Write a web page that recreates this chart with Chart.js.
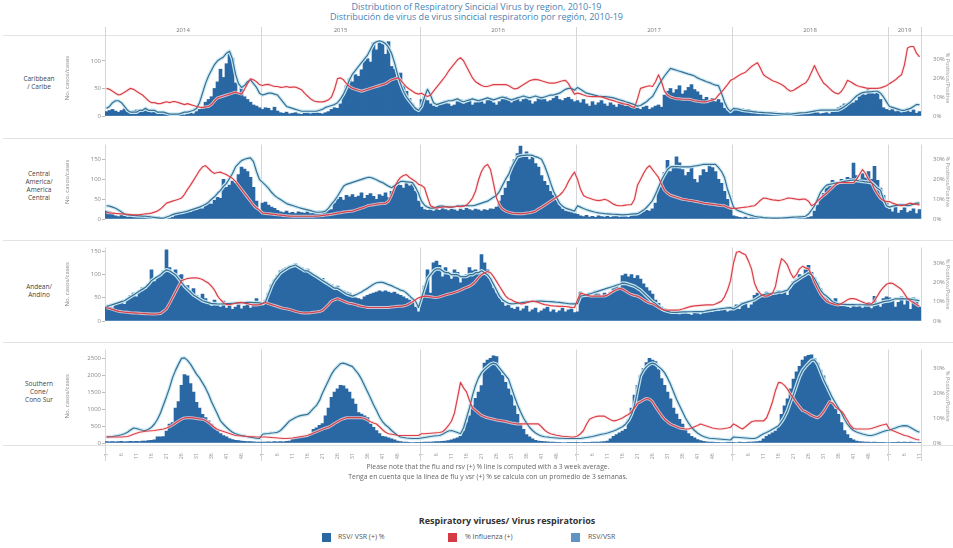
<!DOCTYPE html>
<html>
<head>
<meta charset="utf-8">
<script src="https://cdn.jsdelivr.net/npm/chart.js@4.4.1/dist/chart.umd.min.js"></script>
<style>
  html, body { margin: 0; padding: 0; background: #fff; }
  #wrap { position: relative; width: 953px; height: 548px; overflow: hidden; background: #fff;
          font-family: 'Open Sans', sans-serif; }
  canvas { position: absolute; }
  .t { position: absolute; white-space: nowrap; }
  .title { left: 0; width: 953px; text-align: center; font-size: 9px; color: #4a82b4; }
  .note { left: 0; width: 976px; text-align: center; font-size: 6.8px; color: #666; }
  .row { left: 3px; width: 72px; text-align: center; font-size: 6.5px; line-height: 8px; color: #444; }
  .sep { position: absolute; left: 3px; width: 950px; height: 1px; background: #e2e2e2; }
  .lg { position: absolute; font-size: 7px; color: #555; }
  .sw { position: absolute; width: 9px; height: 9px; }
</style>
</head>
<body>
<div id="wrap">
  <div class="t title" style="top:0px">Distribution of Respiratory Sincicial Virus by region, 2010-19</div>
  <div class="t title" style="top:10px">Distribución de virus de virus sincicial respiratorio por región, 2010-19</div>

  <div class="sep" style="top:35px"></div>
  <div class="sep" style="top:138px"></div>
  <div class="sep" style="top:240px"></div>
  <div class="sep" style="top:342px"></div>
  <div class="sep" style="top:445px"></div>

  <div class="t row" style="top:75px">Caribbean<br>/ Caribe</div>
  <div class="t row" style="top:170px">Central<br>America/<br>America<br>Central</div>
  <div class="t row" style="top:283px">Andean/<br>Andino</div>
  <div class="t row" style="top:380px">Southern<br>Cone/<br>Cono Sur</div>

  <canvas id="c0" width="891" height="130" style="left:62px;top:8px"></canvas>
  <canvas id="c1" width="891" height="104" style="left:62px;top:137px"></canvas>
  <canvas id="c2" width="891" height="103" style="left:62px;top:240px"></canvas>
  <canvas id="c3" width="891" height="119" style="left:62px;top:342px"></canvas>

  <div class="t note" style="top:462px">Please note that the flu and rsv (+) % line is computed with a 3 week average.</div>
  <div class="t note" style="top:472px">Tenga en cuenta que la línea de flu y vsr (+) % se calcula con un promedio de 3 semanas.</div>

  <div class="t" style="left:0;width:1014px;text-align:center;top:514px;font-size:9px;font-weight:700;color:#333">Respiratory viruses/ Virus respiratorios</div>
  <div class="sw" style="left:322px;top:533px;background:#2a68a4"></div>
  <div class="lg" style="left:338px;top:532px">RSV/ VSR (+) %</div>
  <div class="sw" style="left:448px;top:533px;background:#d63b45"></div>
  <div class="lg" style="left:465px;top:532px">% Influenza (+)</div>
  <div class="sw" style="left:571px;top:533px;background:#5f93c3"></div>
  <div class="lg" style="left:588px;top:532px">RSV/VSR</div>
</div>

<script>
// ---- time axis -------------------------------------------------------------
const YEARS = ['2014', '2015', '2016', '2017', '2018', '2019'];
const WEEKS_PER_YEAR = [52, 53, 52, 52, 52, 11];
const TICK_WEEKS = ['1', '6', '11', '16', '21', '26', '31', '36', '41', '46'];

// ---- Caribbean / Caribe ----------------------------------------------------
const caribeCases = [
  8,10,12,9,7,10,13,8,6,9, 11,7,9,12,8,6,10,7,5,8, 6,4,3,2,3,4,2,3,5,4, 8,12,16,25,30,35,50,62,85,70, 95,116,105,60,40,52, 35,30,25,20,18,15,
  12,15,14,10,16,9,6,5,7,4, 5,6,4,3,5,7,4,6,8,5, 4,6,8,12,15,14,22,38,55,68, 62,75,72,84,100,104,98,133,120,138, 130,112,135,90,85,70,78, 55,45,32,22,15,10,
  30,35,28,22,18,16,20,24,28,22, 18,20,26,30,22,25,28,20,24,30, 26,22,28,32,24,20,26,30,35,28, 24,28,32,26,30,34,28,22,26,32, 35,30,26,28,32,36,30, 28,32,34,30,26,
  28,24,30,22,18,26,20,24,28,22, 18,24,20,16,22,26,18,22,20,16, 14,12,16,18,12,15,18,20,16,38, 45,50,42,48,55,40,46,52,57,48, 44,38,30,34,28,32,26, 30,24,14,10,8,
  12,14,10,13,11,12,9,10,6,5, 4,6,3,5,7,4,3,5,6,4, 3,4,6,5,3,4,5,7,6,4, 5,6,4,7,8,15,18,22,20,25, 24,28,35,42,38,50,44, 40,46,30,15,12,
  10,14,8,12,6,9,13,7,11,5,8
];
const caribeRsv = [
  4,5,7,8,8,7,5,3,2,2, 2,3,3,4,3,3,3,2,2,2, 1.5,1,1,1,1,1.5,2,2,2.5,3, 4,7,12,17,21,24,27,29,30,31, 33,34,30,22,17,15, 16,18,19,17,15,12,
  11,11.5,12,12,11.5,11,9,7,5,4.5, 4,3.5,3,2.5,2.5,2.5,2.5,2.5,2.5,3, 3.5,4.5,5,5.5,6,7,9,11.5,15,19, 22,24,26,28,30,32,35,38,39,39.5, 39,38,36,33,28,22,17, 13,10,8,6,4,3,
  5,10,14,11,7,6,6.5,7,7.5,8, 8,8.5,9,8,7.5,8,8.5,9,8.5,8, 8.5,9,9.5,9,8.5,9,9.5,10,9.5,9, 8.5,9,9.5,10,10.5,10,9.5,10,10.5,10, 9.5,10,10.5,11,11,11.5,12, 13,14,14.5,14.5,13.5,
  15,14,13,12,11.6,11.2,10.8,10.5,10.3,10.2, 10,9.8,9.5,9,8.5,8.1,7.5,7,6.5,6, 5.2,5.5,6.5,7.5,9,10.2,13,16,18.7,21, 23,25,24.5,24,23.5,23,22.5,22,21.6,21, 20,19.3,18.7,18,17.5,16.8,16.2, 15.9,12,7.4,4,2.4,
  4,3.8,3.5,3,2.8,2.6,2.4,2.2,2,1.9, 1.8,1.7,1.6,1.5,1.3,1.2,1.1,1,1,1, 1.2,1.4,1.6,1.7,1.8,2,2.3,2.6,2.9,3.1, 3.1,3.1,3.1,3.1,3.1,3.2,4,5,6.2,7.4, 9,10.5,11.5,12.3,12.5,12.7,12.8, 13,13,12,10,7.4,
  5,4.5,4,3.5,3,3,3.5,4,5,6,6
];
const caribeFlu = [
  14.5,14,13,12,11,11.5,12.5,13.5,14.5,14, 13,12,11,9.5,8,7,7,6.5,6.5,7, 7.5,7,7.5,7.5,7,6.5,6,6.5,6,5.5, 5,4.7,4.5,4.8,5,6,8,9.5,10,10.5, 11,11.5,12,12.5,12,11.5, 14,17,19.5,19,18,16.5,
  16,16.5,16.6,16,15.5,15.5,15,15.2,15.5,15, 15.2,15.2,14.5,13.8,12,10.5,9,8,7.5,7.4, 7.4,7.8,8.5,10,14,19.6,20,19,17,15.5, 14.5,14,13.5,13,13.5,14,14.5,15,15.5,16, 16.5,17,18,19,19.5,20,19, 17,15.2,14,13,12,11.5,
  12,11,10.2,11,13,15,17,19,21,23.5, 25.5,27.5,29.5,30.6,29,26,23,20,18,17, 16,15.5,15.5,16,16.5,16.5,16.5,16.5,16.5,16, 15,14.2,14.5,15.5,16.5,17.5,18.5,19,19.2,19, 18.5,18,17.5,17.3,17.3,17.5,18, 18.5,18.7,17,14,11.5,
  12,11.6,11,10.5,10.3,10.2,10.2,10.2,10,9.5, 9,8.5,8.1,7.5,7,6.5,6.2,6,5,4.5, 9,14.5,15,15.5,15.9,15.5,18,21.6,18,13, 11,10,9.5,9,9,8.8,8.8,8.8,8.5,8, 7.8,7.5,7.4,7.5,8,8.5,9, 11,12.5,14.5,16.5,18.7,
  19.4,20.5,21.5,22.3,23,24.5,26,27,28,25, 21.6,20.5,19.5,18.5,18,17.3,16.5,15.5,14,13, 13.5,14.5,15.5,16.5,17.3,19.5,23,26.5,23,20, 17.3,16,14.5,13,12,11.6,13,15.5,18.7,18, 17,16,15.5,15.2,14.8,14.5,14.5, 14.5,14.5,14.8,15.3,15.9,
  17,18,19,20.5,21.6,27,35.7,36.5,36.5,33,31
];

// ---- Central America / America Central --------------------------------------
const centralCases = [
  20,18,12,8,6,10,7,5,8,6, 9,7,5,10,8,6,4,7,3,2, 1,2,4,14,16,18,15,20,17,22, 22,28,26,34,40,38,47,55,52,100, 80,86,96,90,112,131, 126,120,105,80,45,22,
  40,43,35,30,27,22,18,16,20,15, 17,14,18,16,15,19,14,16,18,20, 17,20,22,24,40,50,55,48,60,56, 62,55,58,66,52,60,64,57,50,62, 58,66,54,70,82,92,85, 78,96,84,88,70,45,
  30,24,22,26,20,25,22,27,24,21, 26,23,20,25,22,27,24,21,25,23, 20,24,22,26,25,30,45,60,78,95, 131,150,165,184,160,170,150,158,140,131, 110,95,85,70,60,47,35, 25,20,18,16,14,
  12,8,6,9,5,7,4,8,6,5, 7,4,6,8,5,7,6,4,8,10, 12,14,18,22,20,26,40,78,100,118, 148,120,135,157,142,125,110,118,131,100, 92,110,125,118,138,130,120, 100,90,70,50,30,
  8,6,4,3,5,2,3,4,2,3, 2,1,3,2,1,2,3,2,1,2, 3,2,1,2,3,4,6,20,35,50, 65,78,85,98,92,95,100,98,105,102, 141,110,100,115,104,120,100, 133,98,78,60,40,
  25,18,30,15,22,28,16,20,26,14,24
];
const centralRsv = [
  6.7,6.5,6,5.4,4.5,3.5,2.5,2.1,2,1.8, 1.7,1.6,1.5,1.4,1.2,1,0.8,0.6,0.4,0.4, 1,1.5,2.2,2.7,3,3.3,3.6,4,4.5,5, 5.5,6,6.7,7.5,8.5,10,11.2,13,14.5,16.5, 18,20.5,23,26.3,28,29.5, 30.2,30.6,30.9,29,24,20,
  18.5,17.1,15.5,13.5,11.9,10.8,9.8,8.8,7.8,7.3, 6.8,6.3,5.8,5.4,5,4.6,4.2,3.8,3.4,3.4, 3.6,4,5.5,7.5,9.3,11.5,14,16.5,17.5,18, 18.5,19,19.5,20,20.5,21,21,20.5,19.8,19, 18.4,17.5,16.6,15.8,16.8,18,19, 19,18.8,18.6,18.4,16,13,
  9,7,6,5.5,5.5,6,6.5,6.5,6.3,6, 6,6.2,6.5,6.5,6.7,6.8,6.7,6.7,7,7.5, 8,8.5,9,10,11,11.9,14,17,20,22.4, 26,29,31.5,32,32.2,32.3,32.3,32.2,31.5,31, 30.2,27,23,18.4,14,11,8, 6.5,5.5,5,4.5,4,
  6.7,6,5.3,4.7,4.2,3.8,3.4,3.1,2.9,2.7, 2.6,2.5,2.4,2.3,2.2,2.1,2.2,2.3,2.5,2.6, 2.7,3.5,4.5,5.8,7.5,9.3,12.5,16,19.7,22.5, 25,26.3,26.5,26.5,26.4,26.3,26.3,26.3,26.5,26.8, 27,27.3,27.6,27.6,27.6,27.6,27.6, 26,24,21,15,10.6,
  6,4.7,4,3.4,2.8,2.3,1.8,1.4,1.1,0.9, 0.7,0.6,0.5,0.4,0.4,0.4,0.5,0.6,0.7,0.8, 0.9,1,1.1,1.2,1.4,2.5,4.5,6.7,10,13.5, 15.5,17.1,17.5,17.8,18.1,18.4,18.7,19,19.3,19.5, 19.7,19.5,19.2,19,18.8,18.6,18.4, 17,15.5,14.5,10,6.7,
  6,6.5,6.8,7,7.2,7,6.8,7,7.5,8,8
];
const centralFlu = [
  3.3,3.1,3,2.8,2.7,2.6,2.5,2.4,2.2,2.1, 2.1,2.2,2.4,2.6,2.7,3,3.5,4,5,6.5, 8,8.5,9,9.5,10,10.6,12.5,15,17.1,19.5, 22,24.5,26.3,27,25.5,24,23,23.5,23.7,23, 22.4,21.5,20.5,19,17,15, 13,11,9,7,5.5,4.5,
  3,2.8,2.7,2.5,2.3,2.1,2,1.8,1.6,1.5, 1.4,1.4,1.4,1.4,1.4,1.4,1.4,1.4,1.5,1.6, 1.8,2,2.2,2.4,2.7,3,3.2,3.5,3.7,3.9, 4,4.5,5,5.5,6,6.7,7,7.2,7.5,7.7, 7.8,8,9,12,16,19,21, 22,22.4,21,20,19,17.5,
  17,15.8,11,6.7,6,5.5,5.8,6,6.2,6, 6,6.2,6.5,6.3,6.5,7,8.5,10.6,14,19.7, 24,26.5,27.6,25,18,10.6,7,5,4,3.5, 3,2.8,2.7,2.7,2.7,3,3.2,3.5,4,5, 6,7,8,9,10,11,12, 13.5,15.8,19,21.5,23.7,
  20,15,11.9,11,10.5,10,9.5,9.3,9.5,10, 9.5,8.5,7.5,6.9,6.7,6.8,7,7.2,7.3,10, 17.1,20,23,25.5,27,25,23,21,17.5,14.5, 13,12,11.5,11,10.5,10,9.8,9.5,9.3,9, 8.7,8.4,8,7.8,7.6,7.4,7.2, 7,6.8,6.7,6,5.4,
  5.4,5.4,5.6,5.8,6,6.2,6.5,6.7,8,9.5, 10.6,10.4,10,9.7,9.5,9.3,9.6,10,10.6,10.5, 10.3,10,9.8,10,10,9,6.7,7.5,9,10.5, 11.9,13,14.5,16,17.5,18.4,18.4,18.4,18.4,18.4, 18.4,20,22.5,25,23,20,18.4, 15,12.5,10.5,9.3,8.8,
  8.8,8,7.5,7,6.7,7,7.5,8,7.5,7.5,7
];

// ---- Andean / Andino -------------------------------------------------------
const andeanCases = [
  30,34,28,35,38,42,36,45,55,60, 52,65,72,68,80,110,85,95,100,108, 153,115,105,110,98,100,72,76,65,70, 55,50,58,48,40,32,45,38,30,43, 28,35,25,30,38,26, 32,36,28,40,48,35,
  40,45,60,78,88,98,108,112,115,118, 120,123,118,115,110,112,105,100,95,90, 92,85,80,78,72,75,68,65,62,60, 52,50,48,46,52,55,58,60,62,65, 63,65,62,60,62,58,55, 52,48,45,40,30,20,
  50,75,110,60,125,129,120,95,115,100, 90,110,105,82,95,100,115,108,110,107, 143,125,110,90,71,60,50,40,32,35, 28,25,30,22,26,32,20,24,28,18, 22,26,30,20,24,18,22, 28,20,24,26,18,
  20,62,55,58,60,52,65,58,54,60, 55,62,70,76,72,98,101,95,100,92, 98,90,80,72,65,58,45,38,30,26, 20,18,15,17,14,16,18,15,13,17, 16,14,18,20,22,19,24, 21,23,26,20,22,
  30,35,25,40,38,28,35,55,60,52, 58,62,54,56,60,65,58,62,55,70, 85,90,100,95,110,120,105,93,82,70, 54,50,45,43,48,35,32,36,30,28, 34,30,37,28,32,40,27, 53,35,30,48,52,
  50,45,30,40,52,35,48,25,50,45,30
];
const andeanRsv = [
  7.6,8,8.5,9,9.5,10,10.5,11.5,12.5,13.5, 14.5,15.5,16.5,17.5,19,21,22,23,24,25.5, 26.5,26,25,24,22,20,18,16.5,15,13.5, 12.5,11.5,10.5,10,9.5,9,9,8.8,8.8,8.9, 9,9,9.2,9.3,9.4,9.5, 9.5,9.6,9.6,9.5,9.5,9.4,
  9,10,14,18,21,23,25,26,27,28, 28.5,29,28,27,26,26,25,24,23,22, 21,20,19,18,17,17,16,15,14,13.5, 12.9,13.5,14.2,15,16,16.9,18,19,19.8,20, 20,19.5,18.8,18.3,17.5,16.8,16, 15.6,14.5,13,11.5,10.3,7,
  12,17,22,24,26,27,27,26,25,25, 24,24,24,23,23,23,24,24,25,25, 26,25,24,22,19,16,13,11,10,9.2, 8.9,9,9.2,9.4,9.6,9.8,10,10.1,10.2,10.3, 10.3,10.2,10.1,10,9.9,9.7,9.6, 9.4,9.2,9,8.9,8.9,
  9,12.9,13.2,13.5,14,14.5,15,15.5,16,16.5, 17,17.5,18,18.5,19,19.6,19.5,19,18.5,18, 17,16,14.5,13,11.5,10,9,7.6,6.5,5.5, 5,4.6,4.5,4.5,4.6,4.7,4.7,4.8,4.8,4.9, 4.9,4.9,4.9,5.2,5.5,5.8,6, 6.2,6.4,6.6,6.8,6.9,
  6.3,7,8,9,9.5,10,10.5,11,12,13, 13.5,14,14,14.5,14.5,15,15,15.5,16,18, 20,21,22,23,24,25,24,22,19,16, 14,12.9,11.5,10,9.3,8.9,8.7,8.6,8.5,8.5, 8.5,8.4,8.4,8.4,8.3,8.3,8.3, 8.6,9,9.5,10,10.3,
  10.5,11,11.5,11.5,11.6,11.5,11.5,11.3,11,10.8,10.5
];
const andeanFlu = [
  6.9,6.5,6,5.5,5,4.8,4.6,4.5,4.3,4.2, 4.1,4,3.9,3.8,3.7,3.6,3.6,3.7,3.9,5, 6.3,9,12,15,18,20.9,21.5,22,22.2,22.3, 22.3,22,21.5,20.5,19.6,18,16,13,11,9.5, 8.5,8.5,8.8,9.2,9.5,9.6, 9.3,9,8.6,8.3,8.3,8.5,
  9,9.6,9,8.5,8,7.5,7,6.5,6.3,6, 5.5,5,4.6,4.3,4.2,4.2,4.3,4.5,4.7,4.9, 5.5,7,8.5,10.3,11,11.6,11,10.3,9.6,9.2, 8.9,8.5,8,7.6,7.3,7,7,7,7,7, 7,7,7,7.2,7.4,7.6,7.6, 7.8,8.2,9,10,11,12,
  12.5,12.9,12.7,12.5,12.3,12.2,12.5,13,13.5,14, 14.3,14.8,15.3,16,16.8,17.4,18,19,20.5,22.5, 24,25,25.6,25,23,20.5,18,15.5,13,11.5, 11,10,9.5,8.9,9,9.5,10,10.3,10,9.6, 9,8.5,8.3,8,7.8,7.7,7.6, 7.6,7.5,7.3,7.1,7,
  11,14.3,14,13.5,13,12.9,12.9,12.9,12.9,12.9, 13.5,14.5,15.5,16.3,16.9,16.5,15.5,14.5,13.7,13.2, 12.9,12,11,10,9.3,8.9,8,7,6.2,5.6, 5.6,5.6,5.6,5.6,5.8,6.2,6.7,7.2,7.6,7.8, 8,8.1,8.2,8.3,8.3,8.3,8.8, 9.5,10.3,12.5,16,20.9,
  30,35.6,36,35,34.3,31,27,19.6,16,14, 13,12.9,13.5,14.3,18,26,32.3,31,28.9,25, 22.3,24,27,28.3,27.5,27,24,20,16.9,14, 12,10.3,9.5,9,8.5,8.3,9,10,11,11.6, 11.6,11.2,10.5,9.8,9.2,8.9,8.9, 10.5,13,15.6,17.5,19,
  19.6,19.5,18.5,17.5,16.3,14,11.6,10.5,9.6,8.5,7.6
];

// ---- Southern Cone / Cono Sur ----------------------------------------------
const southernCases = [
  40,35,45,38,42,50,36,44,48,40, 52,45,60,55,70,80,95,180,180,190, 350,560,600,1030,1220,1700,2020,1980,1750,1500, 1200,1032,844,750,654,560,464,370,276,220, 180,130,100,80,70,60, 50,45,40,35,30,25,
  30,25,35,28,40,32,45,38,50,60, 120,150,170,180,170,190,260,400,450,520, 570,800,1030,1350,1500,1600,1700,1690,1600,1500, 1300,1150,900,850,800,750,560,460,370,280, 200,180,150,120,90,60,40, 30,25,20,15,12,10,
  20,25,30,28,35,40,45,50,60,70, 90,120,150,200,350,600,800,1100,1316,1500, 1696,2358,2450,2500,2570,2547,2168,2000,1790,1600, 1412,1100,844,560,400,250,180,120,80,60, 50,40,35,30,25,20,20, 15,15,12,10,10,
  10,15,12,20,18,25,30,28,35,40, 60,120,200,250,300,350,400,700,1030,1412, 1700,1990,2200,2370,2500,2450,2400,2170,1900,1700, 1500,1300,1030,850,700,560,400,276,200,150, 100,70,50,35,30,25,20, 20,15,15,12,10,
  20,15,25,18,22,30,25,35,40,60, 120,200,250,300,350,500,844,1100,1300,1600, 1884,2100,2264,2450,2547,2590,2600,2500,2358,2150, 1980,1700,1500,1200,1000,844,600,370,250,140, 90,60,45,35,30,25,20, 25,20,22,18,15,
  15,20,18,25,22,30,20,25,18,15,12
];
const southernRsv = [
  2.4,2.5,2.6,2.8,3,3.3,3.7,4.3,5.2,6, 5.8,5.4,5.1,5,5.5,6.3,7.6,9.5,12,15.3, 18.5,22,26,29,31.5,33.8,34,33,31.5,29.5, 27.5,26,24,22,19.5,16.5,14,11.5,8.8,7.5, 6.3,5.2,4.3,3.7,3.3,3, 2.8,2.5,2.3,2.1,1.9,1.8,
  3.5,3.7,3.8,4,4.1,4.3,5,6.2,7.5,8.8, 9.5,10.2,10.7,11,11.2,11.4,12.5,13.8,15,17, 20,22.5,25,27.5,29.3,30.5,31.7,31.9,31.5,31, 30.5,29,27.5,25.5,23,20.5,18,15.3,13,10.5, 8.5,7.2,6.3,5,4,3.1,2.4, 2.2,2,1.9,1.8,1.8,1.8,
  2,2.2,2.4,2.6,2.8,2.9,3,3.5,4.2,4.8, 5,4.6,4.2,3.7,6,10,14,19,23,26, 28.1,29.5,30.5,31.5,31.9,31.5,30,28.5,27,25.5, 22,18.5,15.3,12.5,10,8,6.3,5,4,3.3, 2.8,2.5,2.4,2.2,2.1,2,1.9, 1.9,1.8,1.8,1.8,1.8,
  1.8,1.8,2,2.2,2.4,2.6,2.9,3.2,3.5,3.7, 4,4.4,4.8,5.3,5.9,6.5,7.5,9,11.4,15, 21,26.8,29,30.5,31.5,31.9,31.5,30.5,29.5,28.1, 26,23.5,20.5,17.5,15,12.5,10,8,6.3,5, 4,3.2,2.6,2.2,1.9,1.8,1.7, 1.6,1.5,1.4,1.3,1.2,
  2.4,2.3,2.2,2.1,2,1.9,1.8,1.8,2.2,3, 3.7,4.2,4.8,5.5,6.2,6.9,8.5,10.5,13,16.5, 19.5,23,26.5,29,30.5,31.8,33,33.2,31.5,28.5, 25.5,23,20.5,18,16,14,12,9.5,7.5,6, 5,4.4,4,3.6,3.3,3,3, 3.3,3.7,4.2,4.6,5,
  5.2,5.6,6,6.5,6.8,6.9,6.8,6.2,5.5,4.8,4.3
];
const southernFlu = [
  2.4,2.4,2.4,2.4,2.4,2.4,2.5,2.6,3,3.5, 3.9,4.3,4.5,4.7,4.8,4.9,5,5.2,5.4,5.6, 6,6.5,7.2,8,8.8,9.5,10,10.1,10.1,10, 9.8,9.6,9.5,9,8.2,7.2,6.2,5.4,5,4.6, 4.2,3.8,3.4,3,2.9,2.8, 2.7,2.6,2.5,2.5,2.4,2.4,
  2.4,2.4,2.3,2.2,2.1,2,1.9,1.8,1.8,1.9, 2,2.2,2.4,2.6,2.8,3,3.5,4,4.5,5, 5.5,6,6.3,7,7.8,8.5,9.2,9.7,10.1,10.1, 10.1,10.1,10.1,10.1,9.8,9.2,8.5,8,7.6,6.5, 5.3,4.3,3.7,3.5,3.3,3.1,3, 3,3,3,3,3,3,
  3.7,3.7,3.8,3.9,4,4.1,4.2,4.5,5.5,7, 8.8,12,18,24.2,22,20.4,17,14,13,12, 11,10.5,10.1,9.8,9.5,9.2,9,8.8,8.6,8.3, 8,7.8,7.6,7.6,7.6,7.6,7.6,7.6,7.6,7.6, 6.5,5.2,4.3,3.7,3.4,3.1,2.9, 2.7,2.6,2.5,2.4,2.4,
  2.8,3.7,5,7.5,9.5,10.1,10.5,10.7,10.7,10.7, 10,9.3,8.8,9,9.5,10,10.8,11.4,12.5,14, 15.9,16.5,17.2,17.8,17.5,16.5,14.5,12.7,11,9.5, 8.5,7.6,7,6.5,6,5.8,5.6,5.6,6,6.5, 7,7.6,7.2,6.8,6.4,6,5.8, 5.6,5.6,5.8,6,6.3,
  7.6,7,6.2,5.6,6.5,7.5,8.5,8.8,8.8,8.8, 8.8,10,13,16.5,21,24.2,24,23,21.5,19.5, 17.8,16,14.5,13,12.5,11.8,11,10.5,10.1,11, 12.5,14.5,16.5,16,14.5,13.5,12.7,11,9,7, 5.8,5.6,5.6,5.6,5.6,5.6,5.8, 6.2,6.6,7,7.3,7.6,
  5.5,5,4.5,4,3.5,3,2.8,2.3,1.8,1.4,1.2
];

// ---- panels: data references + axis ranges ---------------------------------
const PANELS = [
  { canvas: 'c0', cases: caribeCases,   rsv: caribeRsv,   flu: caribeFlu,   casesMax: 138,  casesStep: 50,  pctMax: 39.9, padTop: 32, header: true },
  { canvas: 'c1', cases: centralCases,  rsv: centralRsv,  flu: centralFlu,  casesMax: 188,  casesStep: 50,  pctMax: 37.6, padTop: 4 },
  { canvas: 'c2', cases: andeanCases,   rsv: andeanRsv,   flu: andeanFlu,   casesMax: 158,  casesStep: 50,  pctMax: 38,   padTop: 4 },
  { canvas: 'c3', cases: southernCases, rsv: southernRsv, flu: southernFlu, casesMax: 2756, casesStep: 500, pctMax: 37.3, padTop: 4, footer: true }
];

// category labels: week numbers, restarting every year
const weekLabels = [];
const yearStarts = [];
WEEKS_PER_YEAR.forEach((n, yi) => {
  yearStarts.push(weekLabels.length);
  for (let w = 1; w <= n; w++) weekLabels.push(String(w));
});
yearStarts.push(weekLabels.length);

Chart.defaults.font.family = "'Open Sans', sans-serif";

// fixed-step ticks from zero up to the axis maximum
const stepTicks = step => scale => {
  const t = [];
  for (let v = 0; v <= scale.max + 1e-9; v += step) t.push({ value: v });
  scale.ticks = t;
};

// year separators (and the year header on the first panel)
const yearLines = {
  id: 'yearLines',
  beforeDatasetsDraw(chart, args, opts) {
    const { ctx, chartArea: a, scales: { x } } = chart;
    const step = x.getPixelForValue(1) - x.getPixelForValue(0);
    const edge = i => x.getPixelForValue(i) - step / 2;
    ctx.save();
    ctx.strokeStyle = '#d6d6d6';
    ctx.lineWidth = 1;
    yearStarts.forEach(i => {
      const px = Math.round(edge(i)) + 0.5;
      ctx.beginPath();
      ctx.moveTo(px, a.top - (opts.up || 0));
      ctx.lineTo(px, a.bottom + (opts.down || 0));
      ctx.stroke();
    });
    if (opts.header) {
      ctx.fillStyle = '#777';
      ctx.font = "6px 'Open Sans', sans-serif";
      ctx.textAlign = 'center';
      ctx.textBaseline = 'middle';
      YEARS.forEach((y, k) => {
        const cx = (edge(yearStarts[k]) + edge(yearStarts[k + 1])) / 2;
        ctx.fillText(y, cx, a.top - 10);
      });
    }
    ctx.restore();
  }
};

PANELS.forEach(p => {
  const lineBase = { type: 'line', yAxisID: 'yR', pointRadius: 0, tension: 0, borderJoinStyle: 'round', fill: false };
  new Chart(document.getElementById(p.canvas), {
    type: 'bar',
    data: {
      labels: weekLabels,
      datasets: [
        { ...lineBase, data: p.flu, borderColor: '#d8404a', borderWidth: 1.2, order: 0 },
        { ...lineBase, data: p.rsv, borderColor: '#3d6d90', borderWidth: 1.2, order: 1 },
        { ...lineBase, data: p.flu, borderColor: 'rgba(255,225,225,0.75)', borderWidth: 3, order: 3 },
        { ...lineBase, data: p.rsv, borderColor: 'rgba(198,234,246,0.95)', borderWidth: 3.6, order: 4 },
        { type: 'bar', data: p.cases, yAxisID: 'yL', backgroundColor: '#2a68a4',
          barPercentage: 1, categoryPercentage: 1, borderWidth: 0, order: 10 }
      ]
    },
    options: {
      responsive: false,
      animation: false,
      devicePixelRatio: 1,
      layout: { padding: { top: p.padTop, bottom: p.footer ? 0 : 4, left: 0, right: 0 } },
      plugins: {
        legend: { display: false },
        tooltip: { enabled: false },
        yearLines: { up: p.header ? 13 : 0, down: p.footer ? 18 : 0, header: !!p.header }
      },
      scales: {
        x: {
          display: !!p.footer,
          offset: true,
          grid: { display: false },
          border: { display: false },
          ticks: {
            autoSkip: false, maxRotation: 90, minRotation: 90, padding: 2,
            font: { size: 5.5 }, color: '#999',
            callback: (v, i) => TICK_WEEKS.includes(weekLabels[i]) ? weekLabels[i] : ''
          },
          afterFit: s => { s.height = 18; }
        },
        yL: {
          position: 'left', min: 0, max: p.casesMax,
          afterBuildTicks: stepTicks(p.casesStep),
          ticks: { font: { size: 6 }, color: '#888', padding: 1, callback: v => String(v) },
          grid: { drawOnChartArea: false, drawTicks: true, tickLength: 3, color: '#bbb' },
          border: { display: false },
          title: { display: true, text: 'No. casos/cases', font: { size: 6 }, color: '#888', padding: { top: 2, bottom: 0 } },
          afterFit: s => { s.width = 43; }
        },
        yR: {
          position: 'right', min: 0, max: p.pctMax,
          afterBuildTicks: stepTicks(10),
          ticks: { font: { size: 6 }, color: '#888', padding: 4, callback: v => v + '%' },
          grid: { display: false },
          border: { display: false },
          title: { display: true, text: '% Positivos/Positive', font: { size: 5.5 }, color: '#999', padding: { top: 2, bottom: 2 } },
          afterFit: s => { s.width = 32; }
        }
      }
    },
    plugins: [yearLines]
  });
});
</script>
</body>
</html>
